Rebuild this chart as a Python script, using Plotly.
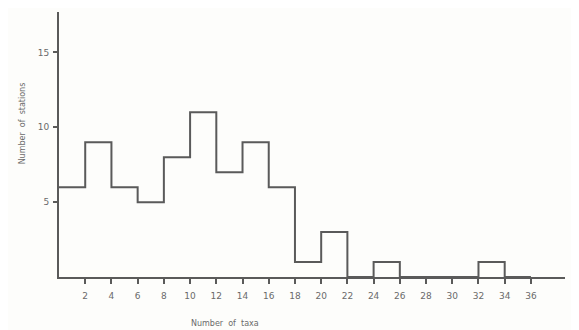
import plotly.graph_objects as go

bin_edges = [0, 2, 4, 6, 8, 10, 12, 14, 16, 18, 20, 22, 24, 26, 28, 30, 32, 34, 36]
stations = [6, 9, 6, 5, 8, 11, 7, 9, 6, 1, 3, 0, 1, 0, 0, 0, 1, 0]
x_ticks = [2, 4, 6, 8, 10, 12, 14, 16, 18, 20, 22, 24, 26, 28, 30, 32, 34, 36]
y_ticks = [5, 10, 15]

# step outline: value held across each bin, last value repeated for closing edge
xs = bin_edges[:-1] + [bin_edges[-2] + 2]
ys = stations + [stations[-1]]

col = "#5a5a5a"
fig = go.Figure()
fig.add_trace(go.Scatter(x=xs, y=ys, mode="lines", line=dict(shape="hv", color=col, width=2),
                         hoverinfo="skip", showlegend=False, cliponaxis=False))

fig.update_layout(
    width=571, height=322,
    margin=dict(l=51, r=14, t=4, b=53, autoexpand=False),
    paper_bgcolor="#fdfdfb", plot_bgcolor="#fdfdfb",
    font=dict(family="DejaVu Sans", size=9, color="#6a6a6a"),
    showlegend=False,
)
fig.update_xaxes(range=[0, 38.6], tickvals=x_ticks, ticktext=[str(v) for v in x_ticks],
                 showgrid=False, zeroline=False, showline=True, linecolor=col, linewidth=2,
                 ticks="outside", ticklen=5, tickwidth=1.5, tickcolor=col, automargin=False,
                 ticklabelstandoff=4,
                 tickfont=dict(size=9, color="#6a6a6a"))
fig.update_yaxes(range=[0, 17.7], tickvals=y_ticks, ticktext=[str(v) for v in y_ticks],
                 showgrid=False, zeroline=False, showline=True, linecolor=col, linewidth=2,
                 ticks="outside", ticklen=4, tickwidth=1.5, tickcolor=col, automargin=False,
                 ticklabelstandoff=2,
                 tickfont=dict(size=9, color="#6a6a6a"))
fig.add_annotation(text="Number  of  taxa", xref="paper", yref="paper", x=0.328, y=-0.15,
                   xanchor="center", yanchor="top", showarrow=False,
                   font=dict(size=8, color="#6a6a6a"))
fig.add_annotation(text="Number  of  stations", xref="paper", yref="paper", x=-0.073, y=0.58,
                   xanchor="center", yanchor="middle", textangle=-90, showarrow=False,
                   font=dict(size=8, color="#6a6a6a"))

fig.write_html("out.html")
